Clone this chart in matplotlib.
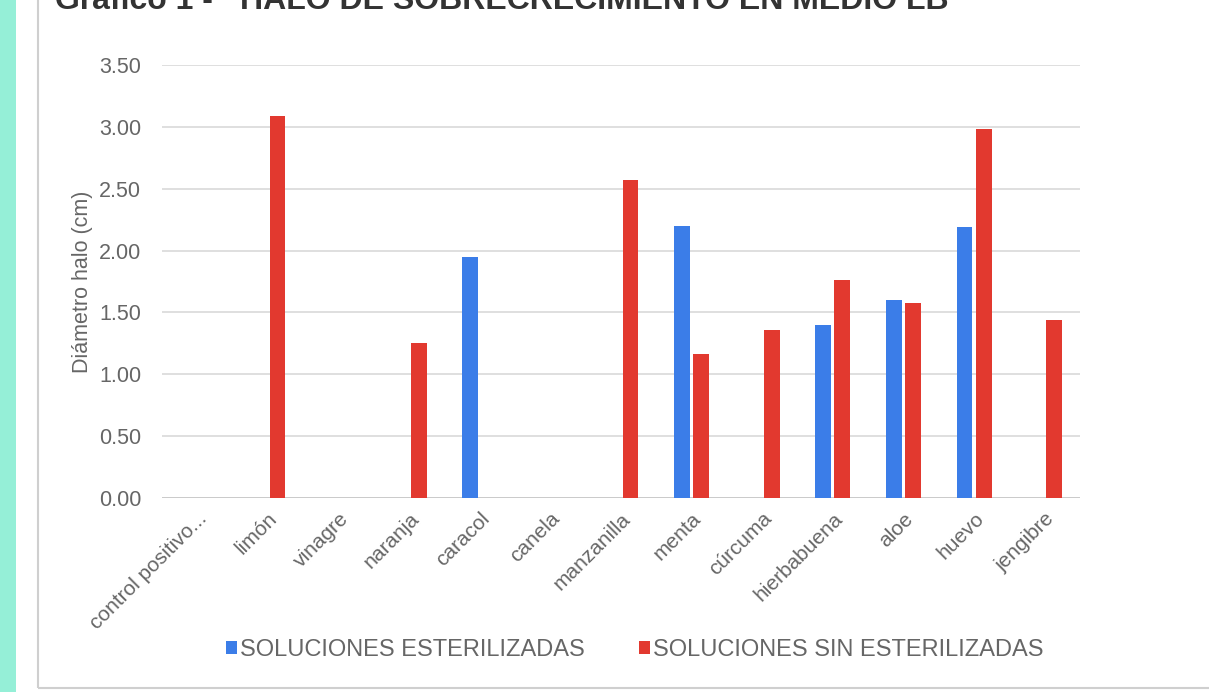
import numpy as np
import matplotlib.pyplot as plt
from matplotlib.patches import Rectangle

categorias = ['control positivo...', 'limón', 'vinagre', 'naranja', 'caracol', 'canela',
              'manzanilla', 'menta', 'cúrcuma', 'hierbabuena', 'aloe', 'huevo', 'jengibre']
esterilizadas = [0, 0, 0, 0, 1.95, 0, 0, 2.20, 0, 1.40, 1.60, 2.19, 0]
sin_esterilizar = [0, 3.09, 0, 1.25, 0, 0, 2.57, 1.16, 1.36, 1.76, 1.58, 2.98, 1.44]
yticks = [0, 0.5, 1.0, 1.5, 2.0, 2.5, 3.0, 3.5]

plt.rcParams['font.family'] = ['Liberation Sans', 'DejaVu Sans']

azul = '#3b7de8'
rojo = '#e2392f'
gris = '#666666'

W, H = 1209, 692
fig = plt.figure(figsize=(W / 100, H / 100), dpi=100)
fig.patch.set_facecolor('white')

# franja lateral y marco del gráfico
fig.patches.append(Rectangle((0, 0), 16 / W, 1, transform=fig.transFigure,
                             facecolor='#95efd7', edgecolor='none', zorder=0))
fig.patches.append(Rectangle((38 / W, 4 / H), 1.2, 1.2, transform=fig.transFigure,
                             facecolor='none', edgecolor='#cfcfcf', lw=1.5, zorder=0))

ax = fig.add_axes([162 / W, 1 - 498 / H, (1080 - 162) / W, (498 - 65) / H])

x = np.arange(len(categorias))
w = 0.225
ax.bar(x - 0.135, esterilizadas, w, color=azul, label='SOLUCIONES ESTERILIZADAS', zorder=3)
ax.bar(x + 0.135, sin_esterilizar, w, color=rojo, label='SOLUCIONES SIN ESTERILIZADAS', zorder=3)

ax.set_xlim(-0.5, len(categorias) - 0.5)
ax.set_ylim(0, 3.5)
ax.set_yticks(yticks)
ax.set_yticklabels([f'{v:.2f}' for v in yticks], color=gris, fontsize=15.5)
ax.set_xticks(x)
ax.set_xticklabels(categorias, rotation=45, ha='right', rotation_mode='anchor',
                   color=gris, fontsize=15)
ax.tick_params(length=0, pad=15)
ax.tick_params(axis='x', pad=8)
ax.yaxis.grid(True, color='#d9d9d9', lw=1.2)
for s in ax.spines.values():
    s.set_visible(False)
ax.axhline(0, color='#c8c8c8', lw=1.2, zorder=2)
ax.set_ylabel('Diámetro halo (cm)', color=gris, fontsize=15.5, labelpad=4)

fig.legend(loc='center', bbox_to_anchor=(635 / W, 1 - 650 / H), ncol=2, frameon=False,
           handlelength=0.45, handleheight=0.45, handletextpad=0.15, columnspacing=2.3,
           prop={'size': 17}, labelcolor=gris)

# titulo (recortado por el borde superior)
fig.text(55 / W, 1 - 9 / H, 'Gráfico 1 -', fontsize=23, fontweight='bold',
         color='#333333', va='baseline')
fig.text(240 / W, 1 - 9 / H, 'HALO DE SOBRECRECIMIENTO EN MEDIO LB', fontsize=23,
         fontweight='bold', color='#333333', va='baseline')

fig.savefig('out.png', dpi=100)
